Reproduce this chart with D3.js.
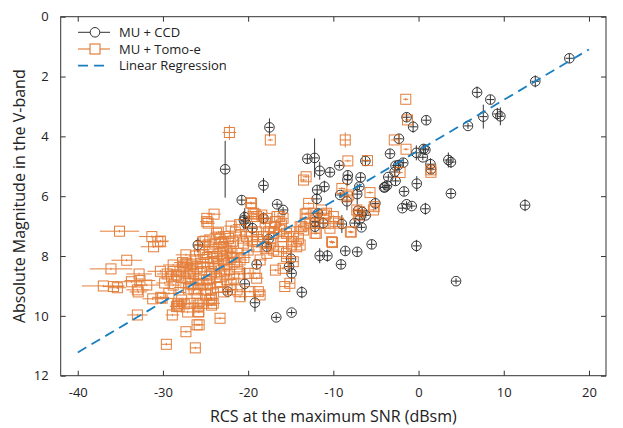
<!DOCTYPE html>
<html>
<head>
<meta charset="utf-8">
<script src="https://cdn.jsdelivr.net/npm/d3@7"></script>
<style>
  body { margin: 0; background: #fff; }
  text { font-family: 'Open Sans', 'Noto Sans', sans-serif; fill: #222; }
</style>
</head>
<body>
<div id="chart"></div>
<script>
// MU + CCD : [rcs, magnitude, magnitude error]
const ccd = [
  [17.7, 1.39, 0.15], [13.7, 2.16, 0.2], [6.87, 2.53, 0.2], [8.43, 2.77, 0.15],
  [7.6, 3.34, 0.4], [9.25, 3.25, 0.2], [9.6, 3.33, 0.3], [5.8, 3.65, 0.1],
  [0.9, 3.46, 0.15], [-1.4, 3.36, 0.15], [-0.64, 3.68, 0.2], [-2.3, 4.08, 0.15],
  [0.6, 4.42, 0.15], [0.8, 4.45, 0.15], [0.5, 4.7, 0.1], [-0.26, 4.55, 0.25],
  [-3.35, 4.58, 0.15], [1.4, 4.93, 0.2], [3.5, 4.79, 0.25], [3.8, 4.86, 0.2],
  [-1.8, 4.88, 0.15], [-2.7, 4.98, 0.15], [-9.3, 4.97, 0.1], [-6.24, 4.82, 0.15],
  [-13.05, 4.75, 0.15], [-12.2, 4.72, 0.65], [-11.6, 5.15, 0.3], [-10.4, 5.2, 0.15],
  [-8.3, 5.3, 0.15], [-8.35, 5.45, 0.2], [-6.8, 5.37, 0.15], [-3.55, 5.36, 0.1],
  [-2.8, 5.19, 0.15], [-2.7, 5.49, 0.15], [-3.7, 5.64, 0.15], [-4.05, 5.71, 0.1],
  [-6.95, 5.68, 0.1], [-11.9, 5.79, 0.15], [-11.05, 5.68, 0.2], [-11.95, 6.09, 0.2],
  [-9.2, 5.96, 0.1], [-7.2, 5.93, 0.35], [-1.7, 5.84, 0.15], [-0.21, 5.58, 0.25],
  [3.8, 5.91, 0.15], [12.5, 6.3, 0.2], [-8.4, 6.17, 0.3], [-5.07, 6.24, 0.2],
  [-1.9, 6.4, 0.1], [-1.4, 6.27, 0.1], [-0.8, 6.33, 0.1], [0.8, 6.42, 0.2],
  [-7.1, 6.48, 0.1], [-6.6, 6.53, 0.1], [-6.2, 6.64, 0.1], [-12.15, 7.02, 0.15],
  [-11.2, 6.9, 0.2], [-9.0, 6.93, 0.3], [-7.5, 6.9, 0.1], [-6.7, 7.04, 0.1],
  [-6.9, 6.77, 0.2], [-5.5, 7.61, 0.15], [-0.25, 7.66, 0.2], [-8.6, 7.83, 0.15],
  [-7.2, 7.86, 0.15], [-11.6, 7.99, 0.25], [-10.7, 7.99, 0.2], [-9.1, 8.28, 0.15],
  [4.4, 8.84, 0.1], [-13.7, 9.21, 0.2], [-22.7, 5.1, 0.95], [-17.5, 3.7, 0.3],
  [-18.2, 5.64, 0.25], [-20.75, 6.13, 0.15], [-16.6, 6.27, 0.1], [-15.9, 6.46, 0.1],
  [-25.9, 7.63, 0.25], [-22.4, 9.19, 0.1], [-20.4, 8.93, 0.55], [-19.2, 9.56, 0.3],
  [-19.0, 8.28, 0.15], [-16.7, 10.05, 0.1], [-14.9, 9.89, 0.1], [-15.2, 8.35, 0.2],
  [-14.97, 8.09, 0.3], [-14.9, 8.58, 0.3], [-20.4, 6.7, 0.3], [-20.5, 6.8, 0.3],
  [-20.3, 6.9, 0.2], [-18.2, 6.74, 0.2], [-19.5, 7.07, 0.2], [-17.6, 7.44, 0.2],
  [-17.8, 7.69, 0.15], [-12.15, 6.85, 0.15], [-11.8, 6.57, 0.15], [-3.93, 5.7, 0.1],
  [-2.37, 4.96, 0.15], [1.45, 5.1, 0.15]
]

// MU + Tomo-e : [rcs, magnitude, rcs error]
const tomo = [
  [-35.1, 7.17, 2.3], [-31.3, 7.35, 1.5], [-30.6, 7.52, 1.2], [-30.3, 7.5, 1.0],
  [-31.1, 7.69, 1.5], [-34.25, 8.14, 1.8], [-36.1, 8.43, 2.5], [-32.8, 8.6, 1.5],
  [-32.7, 8.82, 1.8], [-33.7, 8.86, 1.5], [-37.0, 9.0, 2.5], [-35.8, 9.02, 1.2],
  [-35.35, 9.06, 1.0], [-33.0, 9.13, 1.3], [-32.9, 9.2, 1.0], [-31.9, 8.97, 1.5],
  [-31.2, 9.43, 1.2], [-30.26, 9.38, 1.0], [-33.0, 9.97, 1.2], [-30.3, 8.51, 1.5],
  [-29.5, 8.6, 1.2], [-28.8, 8.52, 1.0], [-29.0, 8.69, 1.0], [-28.2, 8.67, 1.0],
  [-28.8, 8.97, 1.0], [-28.9, 9.97, 0.8], [-28.2, 9.58, 0.8], [-28.1, 9.69, 0.8],
  [-27.1, 9.87, 0.8], [-25.8, 9.87, 0.6], [-26.0, 10.3, 0.6], [-27.3, 10.53, 0.6],
  [-29.6, 10.95, 0.6], [-26.2, 11.07, 0.6], [-27.3, 7.96, 1.2], [-27.7, 8.22, 1.0],
  [-27.4, 8.3, 1.0], [-28.8, 8.3, 1.2], [-26.6, 8.27, 1.0], [-26.0, 8.36, 1.0],
  [-26.8, 8.69, 1.0], [-26.6, 8.91, 1.0], [-26.35, 9.13, 0.8], [-26.0, 9.25, 0.8],
  [-25.3, 8.91, 0.8], [-24.95, 9.13, 0.8], [-24.3, 9.41, 0.8], [-24.1, 9.58, 0.8],
  [-24.85, 6.85, 0.8], [-24.7, 6.9, 0.8], [-24.0, 6.6, 0.8], [-23.7, 7.24, 0.8],
  [-25.3, 7.52, 1.0], [-23.5, 7.2, 0.8], [-24.5, 7.46, 0.8], [-25.05, 7.5, 0.8],
  [-23.3, 7.44, 0.8], [-22.3, 7.41, 0.8], [-22.9, 7.69, 0.8], [-22.5, 7.8, 0.8],
  [-22.1, 7.69, 0.8], [-21.9, 7.91, 0.8], [-23.3, 7.91, 0.8], [-23.7, 8.02, 0.8],
  [-24.1, 8.07, 0.8], [-22.9, 8.13, 0.8], [-22.5, 8.24, 0.8], [-23.5, 8.3, 0.8],
  [-23.9, 8.41, 0.8], [-24.3, 8.52, 0.8], [-24.5, 8.63, 0.8], [-24.9, 8.8, 0.8],
  [-25.6, 8.24, 0.8], [-25.3, 8.36, 0.8], [-26.0, 8.41, 0.8], [-26.8, 8.47, 0.8],
  [-27.2, 8.24, 0.8], [-27.6, 8.36, 0.8], [-28.0, 8.52, 0.8], [-28.4, 8.63, 0.8],
  [-27.4, 8.74, 0.8], [-26.8, 8.91, 0.8], [-25.8, 8.8, 0.8], [-24.5, 8.91, 0.8],
  [-23.3, 8.86, 0.8], [-22.5, 8.8, 0.8], [-21.7, 8.74, 0.8], [-21.3, 8.36, 0.8],
  [-20.95, 8.13, 0.8], [-21.3, 7.91, 0.8], [-20.55, 7.57, 0.8], [-20.95, 7.3, 0.8],
  [-20.2, 7.35, 0.8], [-19.6, 7.19, 0.8], [-19.0, 7.19, 0.8], [-19.4, 6.68, 0.8],
  [-18.2, 7.35, 0.8], [-18.0, 7.69, 0.8], [-17.8, 7.91, 0.8], [-18.6, 8.13, 0.8],
  [-19.0, 8.74, 0.8], [-20.0, 8.58, 0.8], [-18.8, 9.19, 0.8], [-19.8, 9.19, 0.8],
  [-21.3, 9.13, 0.8], [-20.95, 9.36, 0.8], [-24.3, 9.47, 0.8], [-25.3, 9.58, 0.8],
  [-25.8, 9.64, 0.8], [-26.8, 9.58, 0.8], [-27.8, 9.47, 0.8], [-28.4, 9.69, 0.8],
  [-19.6, 6.24, 0.6], [-19.4, 6.57, 0.6], [-19.0, 6.68, 0.6], [-18.4, 6.63, 0.6],
  [-17.8, 6.74, 0.6], [-18.0, 6.9, 0.6], [-17.4, 7.02, 0.6], [-17.6, 7.19, 0.6],
  [-17.0, 7.24, 0.6], [-16.6, 6.68, 0.6], [-16.8, 6.85, 0.6], [-15.9, 6.74, 0.6],
  [-16.1, 6.96, 0.6], [-16.3, 7.13, 0.6], [-15.5, 7.24, 0.6], [-15.9, 7.35, 0.6],
  [-15.1, 7.19, 0.6], [-14.7, 7.35, 0.6], [-14.9, 7.52, 0.6], [-14.1, 7.41, 0.6],
  [-13.9, 7.02, 0.6], [-13.5, 7.13, 0.6], [-13.3, 6.9, 0.6], [-13.1, 6.57, 0.6],
  [-12.9, 6.24, 0.6], [-12.35, 6.57, 0.5], [-12.15, 6.8, 0.5], [-11.4, 6.46, 0.5],
  [-10.8, 6.57, 0.5], [-11.2, 6.9, 0.5], [-10.0, 6.68, 0.5], [-9.8, 6.85, 0.5],
  [-9.4, 6.9, 0.5], [-12.15, 7.24, 0.5], [-10.4, 7.07, 0.5], [-10.2, 7.52, 0.3],
  [-8.0, 7.19, 0.3], [-9.0, 5.74, 0.4], [-8.4, 6.02, 0.4], [-13.5, 5.46, 0.4],
  [-7.25, 6.46, 0.4], [-7.07, 6.63, 0.4], [-19.0, 7.69, 0.6], [-17.4, 7.57, 0.6],
  [-17.0, 7.8, 0.6], [-16.45, 7.85, 0.6], [-15.9, 7.69, 0.6], [-15.5, 8.02, 0.6],
  [-14.7, 8.19, 0.6], [-16.8, 8.47, 0.6], [-19.2, 8.58, 0.6], [-15.7, 9.02, 0.6],
  [-15.1, 8.91, 0.6], [-17.4, 4.12, 0.3], [-8.6, 4.12, 0.6], [-13.2, 5.35, 0.4],
  [-8.3, 4.82, 0.4], [-6.0, 4.81, 0.4], [-2.85, 4.12, 0.4], [-1.47, 4.43, 0.3],
  [-2.17, 5.21, 0.3], [1.45, 5.12, 0.3], [1.45, 5.2, 0.3], [-19.7, 6.22, 0.5],
  [-5.7, 5.88, 0.4], [-5.2, 6.35, 0.4], [-8.2, 5.96, 0.4], [-6.9, 6.52, 0.4],
  [-19.2, 6.6, 0.5], [-1.5, 2.76, 0.3], [-1.3, 3.45, 0.3], [-22.2, 3.87, 0.8],
  [-24.85, 6.74, 0.6], [-16.3, 6.68, 0.6], [-13.3, 6.6, 0.5], [-11.0, 6.63, 0.5],
  [-13.7, 7.02, 0.5], [-13.9, 7.63, 0.5], [-12.0, 7.24, 0.5], [-10.1, 7.55, 0.3],
  [-7.9, 7.2, 0.3], [-5.3, 6.46, 0.4], [-12.75, 6.9, 0.5], [-14.9, 7.63, 0.5],
  [-14.3, 7.69, 0.5], [-15.5, 7.91, 0.5], [-15.9, 8.41, 0.5], [-18.6, 9.3, 0.6],
  [-22.1, 9.13, 0.6], [-24.5, 9.47, 0.6], [-24.3, 9.64, 0.6], [-23.3, 10.08, 0.6],
  [-26.0, 9.58, 0.6], [-25.8, 9.86, 0.6], [-25.75, 10.3, 0.6], [-28.3, 9.64, 0.8],
  [-30.1, 9.41, 0.8], [-24.6, 7.7, 0.8], [-24.2, 7.85, 0.8], [-23.9, 7.6, 0.8],
  [-23.1, 7.55, 0.8], [-22.7, 7.35, 0.8], [-21.8, 7.5, 0.8], [-21.5, 7.2, 0.8],
  [-22.0, 8.05, 0.8], [-21.6, 8.2, 0.8], [-22.2, 8.45, 0.8], [-22.8, 8.5, 0.8],
  [-23.2, 8.6, 0.8], [-23.7, 8.7, 0.8], [-24.0, 8.25, 0.8], [-24.8, 8.05, 0.8],
  [-25.2, 7.95, 0.8], [-25.7, 7.8, 0.8], [-26.2, 8.0, 0.8], [-26.4, 8.6, 0.8],
  [-25.9, 8.95, 0.8], [-25.0, 9.3, 0.8], [-23.6, 9.05, 0.8], [-22.9, 9.2, 0.8],
  [-22.0, 8.95, 0.8], [-21.0, 8.6, 0.8], [-20.5, 8.05, 0.8], [-20.0, 7.8, 0.8],
  [-19.5, 7.5, 0.8], [-18.9, 7.45, 0.8], [-17.2, 7.4, 0.6], [-16.9, 7.05, 0.6],
  [-21.0, 6.95, 0.8], [-22.0, 7.0, 0.8], [-23.0, 8.0, 0.8], [-24.4, 9.1, 0.8],
  [-27.0, 9.1, 0.8], [-27.9, 9.05, 0.8], [-29.3, 9.25, 1.0], [-29.8, 8.9, 1.0],
  [-27.5, 9.6, 0.8]
]

// Tomo-e points with visible magnitude error bars
const tomoYErr = { '-22.2': 0.25, '-8.6': 0.25 }

// linear fit: magnitude = slope * rcs + intercept
const fitRange = [-40, 20]
const slope = -0.1688
const intercept = 4.47

const xTicks = [-40, -30, -20, -10, 0, 10, 20]
const yTicks = [0, 2, 4, 6, 8, 10, 12]
const legendLabels = ['MU + CCD', 'MU + Tomo-e', 'Linear Regression']

const W = 623
const H = 428
const margin = { top: 16.7, right: 17, bottom: 52.3, left: 60.7 }
const width = W - margin.left - margin.right
const height = H - margin.top - margin.bottom

const black = '#333'
const orange = '#e0691a'
const blue = '#1a7fc1'

const svg = d3.select('#chart').append('svg')
  .attr('width', W)
  .attr('height', H)

const g = svg.append('g')
  .attr('transform', 'translate(' + margin.left + ',' + margin.top + ')')

const x = d3.scaleLinear().domain([-42, 22]).range([0, width])
const y = d3.scaleLinear().domain([0, 12]).range([0, height])

// CCD points
const ccdG = g.append('g')
ccd.forEach(d => {
  const cx = x(d[0])
  const cy = y(d[1])
  ccdG.append('line')
    .attr('x1', cx).attr('x2', cx)
    .attr('y1', y(d[1] - d[2])).attr('y2', y(d[1] + d[2]))
    .attr('stroke', black).attr('stroke-width', 1)
  ccdG.append('line')
    .attr('x1', x(d[0] - 0.45)).attr('x2', x(d[0] + 0.45))
    .attr('y1', cy).attr('y2', cy)
    .attr('stroke', black).attr('stroke-width', 1)
  ccdG.append('circle')
    .attr('cx', cx).attr('cy', cy).attr('r', 4.8)
    .attr('fill', 'none').attr('stroke', black).attr('stroke-width', 1)
})

// Tomo-e points
const tomoG = g.append('g').attr('opacity', 0.85)
tomo.forEach(d => {
  const cx = x(d[0])
  const cy = y(d[1])
  const ye = tomoYErr[String(d[0])] || 0.04
  tomoG.append('line')
    .attr('x1', x(d[0] - d[2])).attr('x2', x(d[0] + d[2]))
    .attr('y1', cy).attr('y2', cy)
    .attr('stroke', orange).attr('stroke-width', 1)
  tomoG.append('line')
    .attr('x1', cx).attr('x2', cx)
    .attr('y1', y(d[1] - ye)).attr('y2', y(d[1] + ye))
    .attr('stroke', orange).attr('stroke-width', 1)
  tomoG.append('rect')
    .attr('x', cx - 5).attr('y', cy - 5)
    .attr('width', 10).attr('height', 10)
    .attr('fill', 'none').attr('stroke', orange).attr('stroke-width', 1)
})

// regression line
g.append('line')
  .attr('x1', x(fitRange[0])).attr('y1', y(slope * fitRange[0] + intercept))
  .attr('x2', x(fitRange[1])).attr('y2', y(slope * fitRange[1] + intercept))
  .attr('stroke', blue).attr('stroke-width', 1.8)
  .attr('stroke-dasharray', '10,6')

// axes, ticks pointing inward on all four sides
const axisStyle = sel => {
  sel.select('.domain').remove()
  sel.selectAll('.tick line').attr('stroke', black)
  sel.selectAll('.tick text').attr('font-size', 13).attr('fill', '#222')
}
const plain = d => String(d)

g.append('g')
  .attr('transform', 'translate(0,' + height + ')')
  .call(d3.axisBottom(x).tickValues(xTicks).tickSize(-5).tickPadding(12).tickFormat(plain))
  .call(axisStyle)

g.append('g')
  .call(d3.axisTop(x).tickValues(xTicks).tickSize(-5).tickFormat(''))
  .call(axisStyle)

g.append('g')
  .call(d3.axisLeft(y).tickValues(yTicks).tickSize(-5).tickPadding(12).tickFormat(plain))
  .call(axisStyle)

g.append('g')
  .attr('transform', 'translate(' + width + ',0)')
  .call(d3.axisRight(y).tickValues(yTicks).tickSize(-5).tickFormat(''))
  .call(axisStyle)

g.append('rect')
  .attr('width', width).attr('height', height)
  .attr('fill', 'none').attr('stroke', black).attr('stroke-width', 1)

// axis titles
svg.append('text')
  .attr('x', margin.left + width / 2)
  .attr('y', 422)
  .attr('text-anchor', 'middle')
  .attr('font-size', 16)
  .text('RCS at the maximum SNR (dBsm)')

svg.append('text')
  .attr('transform', 'translate(25,' + (margin.top + height / 2) + ') rotate(-90)')
  .attr('text-anchor', 'middle')
  .attr('font-size', 16)
  .text('Absolute Magnitude in the V-band')

// legend
const legend = svg.append('g').attr('transform', 'translate(78,32.3)')
legendLabels.forEach((label, i) => {
  const row = legend.append('g').attr('transform', 'translate(0,' + i * 16.7 + ')')
  if (i === 0) {
    row.append('line').attr('x1', 0).attr('x2', 32).attr('stroke', black)
    row.append('circle').attr('cx', 17).attr('r', 4.8).attr('fill', 'white').attr('stroke', black)
  } else if (i === 1) {
    row.append('line').attr('x1', 0).attr('x2', 32).attr('stroke', orange)
    row.append('rect').attr('x', 12).attr('y', -5).attr('width', 10).attr('height', 10)
      .attr('fill', 'white').attr('stroke', orange)
  } else {
    row.append('line').attr('x1', 0).attr('x2', 32).attr('stroke', blue)
      .attr('stroke-width', 1.8).attr('stroke-dasharray', '10,6')
  }
  row.append('text')
    .attr('x', 41).attr('y', 4.5)
    .attr('font-size', 13)
    .text(label)
})
</script>
</body>
</html>
